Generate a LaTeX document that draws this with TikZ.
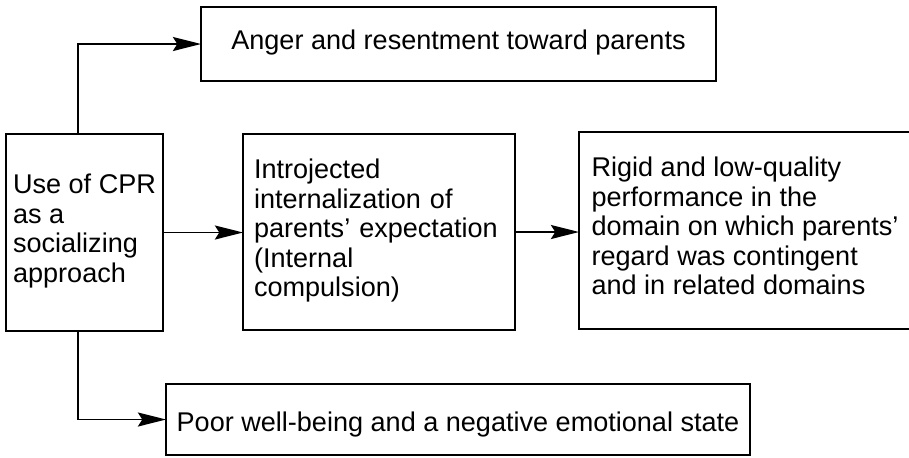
\documentclass[tikz,border=0pt]{standalone}
\usepackage{fontspec}
\setmainfont{Liberation Sans}
\usetikzlibrary{arrows.meta}

\begin{document}
\begin{tikzpicture}[
    box/.style={draw,line width=1pt,anchor=north west,align=left,
      inner sep=0pt,outer sep=0pt,font=\fontsize{15.4}{16.8}\selectfont,
      execute at begin node={\strut\rule{0pt}{#1}},execute at end node=\strut},
    box/.default=0pt,
    arr/.style={line width=1pt,-{Stealth[length=16pt,width=8pt,inset=2.5pt]}}
  ]
  \useasboundingbox (0,0) rectangle (18.18,-9.14);
  \coordinate (C) at (0.12,-2.68);
  \coordinate (I) at (4.86,-2.68);
  \coordinate (R) at (11.58,-2.64);
  \coordinate (T) at (4.02,-0.14);
  \coordinate (B) at (3.32,-7.68);

  % middle row
  \node[box,minimum width=3.14cm,minimum height=3.94cm] (cpr) at (C)
    {Use of CPR\\as a\\socializing\\approach};
  \node[box,minimum width=5.44cm,minimum height=3.92cm,text width=5cm] (intro) at (I)
    {Introjected\\internalization of\\parents' expectation\\(Internal\\compulsion)};
  \node[box,minimum width=6.64cm,minimum height=3.94cm] (perf) at (R)
    {Rigid and low-quality\\performance in the\\domain on which parents'\\regard was contingent\\and in related domains};

  % top and bottom
  \node[box,minimum width=10.30cm,minimum height=1.48cm] (anger) at (T)
    {Anger and resentment toward parents};
  \node[box=18.6pt,minimum width=11.68cm,minimum height=1.42cm] (poor) at (B)
    {Poor well-being and a negative emotional state};

  \draw[arr] (cpr.east) -- (cpr.east -| intro.west);
  \draw[arr] (intro.east) -- (intro.east -| perf.west);
  \draw[arr] ([xshift=-0.13cm]cpr.north) |- (anger.west);
  \draw[arr] ([xshift=-0.13cm]cpr.south) |- (poor.west);
\end{tikzpicture}
\end{document}
